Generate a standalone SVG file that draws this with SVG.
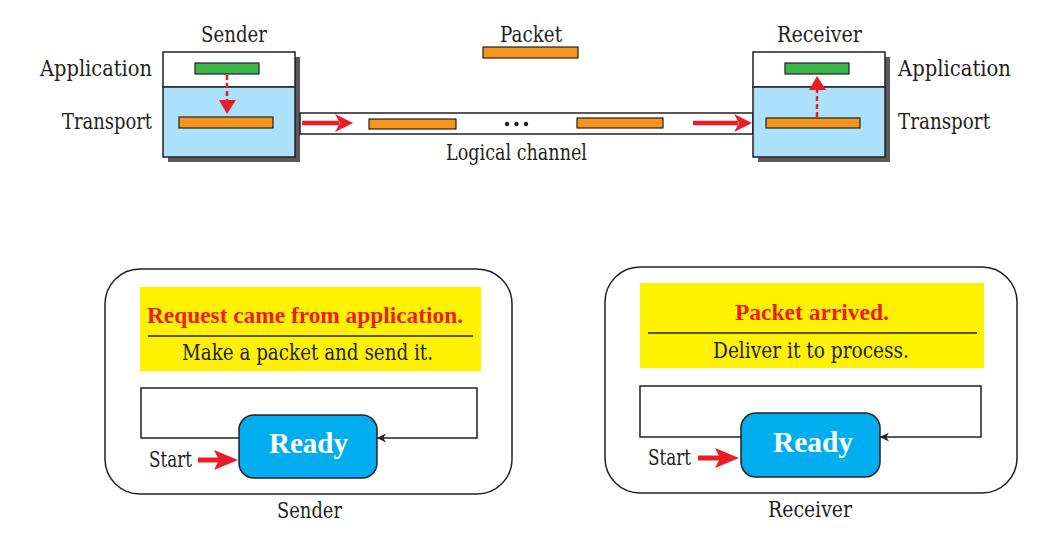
<svg xmlns="http://www.w3.org/2000/svg" width="1047" height="548" viewBox="0 0 1047 548">
<defs>
<style>
.t{font-family:'DejaVu Serif','Liberation Serif',serif;font-size:21.5px;fill:#231f20}
.tb{font-family:'Liberation Serif','Times New Roman',serif;font-weight:bold}
.box{stroke:#231f20;stroke-width:1.5}
.pkt{fill:#f7941d;stroke:#231f20;stroke-width:1.2}
.app{fill:#39b54a;stroke:#231f20;stroke-width:1.2}
.dash{stroke:#ed1c24;stroke-width:2.5;stroke-dasharray:5 3;fill:none}
.red{fill:#ed1c24}
.line{stroke:#231f20;stroke-width:1.5;fill:none}
</style>
<marker id="blk" viewBox="0 0 10 10" refX="10" refY="5" markerWidth="9" markerHeight="9" markerUnits="userSpaceOnUse" orient="auto">
<path d="M0,0 L10,5 L0,10 L3,5 Z" fill="#231f20"/>
</marker>
</defs>

<g id="sender-top">
<text class="t" x="201" y="42" textLength="66" lengthAdjust="spacingAndGlyphs">Sender</text>
<text class="t" x="40" y="76" textLength="112" lengthAdjust="spacingAndGlyphs">Application</text>
<text class="t" x="62" y="129" textLength="90" lengthAdjust="spacingAndGlyphs">Transport</text>
<rect x="168" y="57" width="132" height="105" fill="#58595b"/>
<rect x="163" y="52" width="132" height="35" fill="#fff" class="box"/>
<rect x="163" y="87" width="132" height="70" fill="#abe1fa" class="box"/>
<rect x="195" y="63" width="64" height="11" class="app"/>
<rect x="179" y="117" width="94" height="11" class="pkt"/>
<line x1="227" y1="75" x2="227" y2="102" class="dash"/>
<polygon points="219,100 236,100 227,114" class="red"/>
</g>

<g id="packet">
<text class="t" x="500" y="42" textLength="62" lengthAdjust="spacingAndGlyphs">Packet</text>
<rect x="483" y="47" width="95" height="11" class="pkt"/>
</g>

<g id="channel">
<rect x="300" y="113" width="453" height="21" fill="#fff" class="box"/>
<rect x="369" y="119" width="87" height="10" class="pkt"/>
<rect x="577" y="118" width="86" height="10" class="pkt"/>
<circle cx="507" cy="124" r="2.2" fill="#231f20"/>
<circle cx="516.5" cy="124" r="2.2" fill="#231f20"/>
<circle cx="526" cy="124" r="2.2" fill="#231f20"/>
<text class="t" x="446" y="160" textLength="141" lengthAdjust="spacingAndGlyphs">Logical channel</text>
</g>

<g id="receiver-top">
<text class="t" x="777" y="42" textLength="85" lengthAdjust="spacingAndGlyphs">Receiver</text>
<text class="t" x="898" y="76" textLength="113" lengthAdjust="spacingAndGlyphs">Application</text>
<text class="t" x="898" y="129" textLength="92" lengthAdjust="spacingAndGlyphs">Transport</text>
<rect x="758" y="57" width="132" height="105" fill="#58595b"/>
<rect x="753" y="52" width="132" height="35" fill="#fff" class="box"/>
<rect x="753" y="87" width="132" height="70" fill="#abe1fa" class="box"/>
<rect x="785" y="63" width="64" height="11" class="app"/>
<rect x="766" y="118" width="94" height="10" class="pkt"/>
<line x1="817" y1="117" x2="817" y2="88" class="dash"/>
<polygon points="809,90 826,90 817,76" class="red"/>
</g>

<g id="connectors">
<line x1="302" y1="123" x2="339" y2="123" stroke="#ed1c24" stroke-width="4.5"/>
<polygon points="335,114 353,123 335,132 340,123" class="red"/>
<line x1="693" y1="123" x2="738" y2="123" stroke="#ed1c24" stroke-width="4.5"/>
<polygon points="734,114 752,123 734,132 739,123" class="red"/>
</g>

<g id="sender-fsm">
<rect x="105" y="269" width="407" height="225" rx="35" ry="35" fill="#fff" class="box"/>
<rect x="140" y="287" width="341" height="84" fill="#fff200"/>
<line x1="148" y1="336" x2="473" y2="336" stroke="#231f20" stroke-width="1.5"/>
<text class="tb" x="147" y="323" font-size="23" fill="#ed1c24" textLength="316" lengthAdjust="spacingAndGlyphs">Request came from application.</text>
<text class="t" x="182" y="360" textLength="251" lengthAdjust="spacingAndGlyphs">Make a packet and send it.</text>
<path d="M239,438 H141 V388 H477 V438 H377" class="line" marker-end="url(#blk)"/>
<rect x="239" y="415" width="138" height="63" rx="15" ry="15" fill="#00aeef" class="box"/>
<text class="tb" x="269" y="453" font-size="29" fill="#fff" textLength="79" lengthAdjust="spacingAndGlyphs">Ready</text>
<text class="t" x="149" y="467" textLength="43" lengthAdjust="spacingAndGlyphs">Start</text>
<line x1="198" y1="460" x2="220" y2="460" stroke="#ed1c24" stroke-width="5"/>
<polygon points="214,450 238,460 214,470 219,460" class="red"/>
<text class="t" x="277" y="518" textLength="65" lengthAdjust="spacingAndGlyphs">Sender</text>
</g>

<g id="receiver-fsm">
<rect x="605" y="267" width="412" height="226" rx="35" ry="35" fill="#fff" class="box"/>
<rect x="640" y="283" width="344" height="85" fill="#fff200"/>
<line x1="648" y1="333" x2="977" y2="333" stroke="#231f20" stroke-width="1.5"/>
<text class="tb" x="735" y="320" font-size="23" fill="#ed1c24" textLength="154" lengthAdjust="spacingAndGlyphs">Packet arrived.</text>
<text class="t" x="713" y="358" textLength="196" lengthAdjust="spacingAndGlyphs">Deliver it to process.</text>
<path d="M741,437 H640 V386 H981 V437 H880" class="line" marker-end="url(#blk)"/>
<rect x="741" y="413" width="139" height="64" rx="15" ry="15" fill="#00aeef" class="box"/>
<text class="tb" x="773" y="452" font-size="29" fill="#fff" textLength="80" lengthAdjust="spacingAndGlyphs">Ready</text>
<text class="t" x="648" y="465" textLength="43" lengthAdjust="spacingAndGlyphs">Start</text>
<line x1="698" y1="458" x2="721" y2="458" stroke="#ed1c24" stroke-width="5"/>
<polygon points="715,448 739,458 715,468 720,458" class="red"/>
<text class="t" x="768" y="517" textLength="84" lengthAdjust="spacingAndGlyphs">Receiver</text>
</g>
</svg>
